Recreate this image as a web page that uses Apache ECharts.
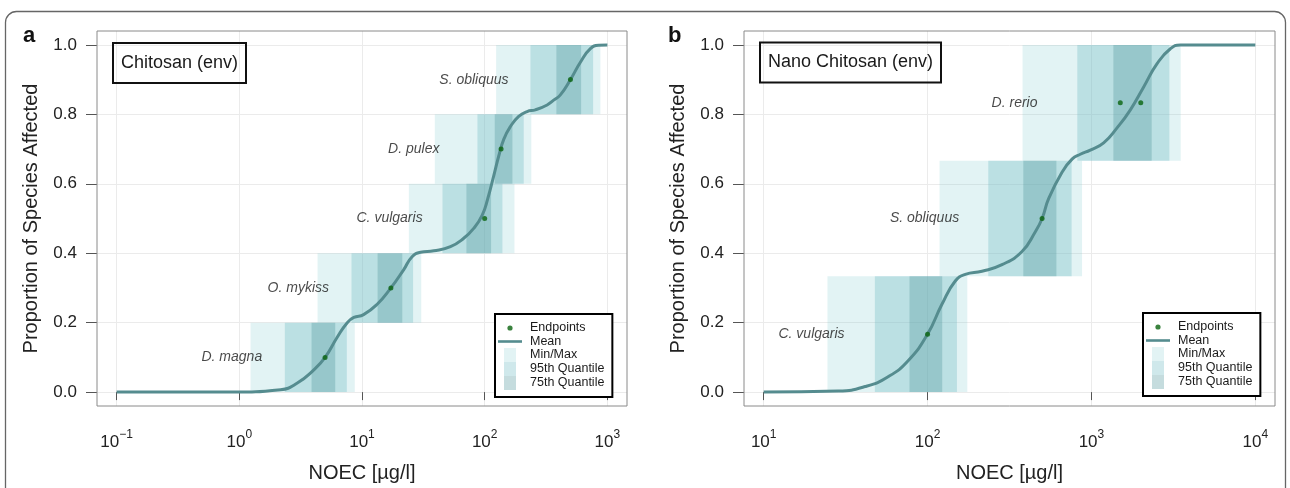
<!DOCTYPE html>
<html>
<head>
<meta charset="utf-8">
<script src="https://cdn.jsdelivr.net/npm/echarts@6/dist/echarts.min.js"></script>
<style>
  html, body { margin: 0; padding: 0; background: #fff; }
  #chart { width: 1290px; height: 488px; }
</style>
</head>
<body>
<div id="chart"></div>
<script>
// ---- panel a : Chitosan (env) ----
const aMeanNoec = [0.1, 0.85, 2.17, 2.97, 4.05, 5.0, 6.28, 7.58, 8.58, 10.3, 13.3, 17.2, 21.9, 25.6, 30.0, 38.5, 52.6, 67.5, 81.4, 95.3, 105.9, 118.5, 130.2, 143, 162.1, 189.4, 221.8, 259, 322.8, 365, 414, 500, 602.6, 727, 849, 1000];
const aMeanFrac = [0, 0, 0.007, 0.026, 0.064, 0.10, 0.158, 0.20, 0.215, 0.223, 0.253, 0.30, 0.353, 0.39, 0.403, 0.407, 0.419, 0.443, 0.4715, 0.509, 0.557, 0.623, 0.680, 0.728, 0.765, 0.794, 0.808, 0.813, 0.827, 0.841, 0.856, 0.90, 0.95, 0.989, 0.999, 1.0];
const aEndNoec = [5, 17.2, 100, 136, 500];
const aEndFrac = [0.1, 0.3, 0.5, 0.7, 0.9];
const aSteps = [0, 0.2, 0.4, 0.6, 0.8, 1.0];
const aMinMax = [[1.235, 8.73], [4.34, 30.4], [24.1, 174.8], [39.2, 240], [124, 877]];
const a95 = [[2.35, 7.52], [8.21, 26.1], [45.3, 139.5], [87.3, 208], [236, 765]];
const a75 = [[3.88, 6.05], [13.4, 21.3], [71.0, 112.8], [120.8, 168.3], [384, 611]];
const aSpecies = ['D. magna', 'O. mykiss', 'C. vulgaris', 'D. pulex', 'S. obliquus'];
const aLabelNoec = [1.55, 5.44, 31.5, 43.2, 158];
const aTicks = [0.1, 1, 10, 100, 1000];
const aRange = [-1.16, 3.16];

// ---- panel b : Nano Chitosan (env) ----
const bMeanNoec = [10, 28.6, 41.7, 57.8, 76.6, 100, 122.4, 147.6, 170, 214.8, 284.6, 377, 454.6, 500, 548, 661.4, 761.5, 855, 984, 1187, 1433, 1728, 2083, 2515, 3031, 3489, 10000];
const bMeanFrac = [0, 0.003, 0.016, 0.045, 0.092, 0.167, 0.253, 0.32, 0.339, 0.348, 0.367, 0.405, 0.462, 0.5, 0.557, 0.633, 0.671, 0.685, 0.697, 0.718, 0.761, 0.813, 0.879, 0.946, 0.989, 1.0, 1.0];
const bEndNoec = [100, 500, 1500, 2000];
const bEndFrac = [1 / 6, 0.5, 5 / 6, 5 / 6];
const bSteps = [0, 1 / 3, 2 / 3, 1];
const bMinMax = [[24.5, 174.8], [118.4, 876], [380, 3504]];
const b95 = [[47.7, 151.1], [234.8, 757], [820, 2989]];
const b75 = [[77.6, 122.9], [384, 611], [1361, 2331]];
const bSpecies = ['C. vulgaris', 'S. obliquus', 'D. rerio'];
const bLabelNoec = [31.4, 157, 472];
const bTicks = [10, 100, 1000, 10000];
const bRange = [0.88, 4.12];

const yTicks = [0, 0.2, 0.4, 0.6, 0.8, 1.0];

const C_MINMAX = 'rgba(120,200,205,0.21)';
const C_95 = 'rgba(110,185,195,0.33)';
const C_75 = 'rgba(80,150,155,0.33)';
const C_MEAN = '#558c8f';
const C_END = '#0a640f';
const FONT = '"Liberation Sans", Arial, sans-serif';

const dotSvg = '<svg xmlns="http://www.w3.org/2000/svg" width="24" height="14"><circle cx="12" cy="7" r="2.6" fill="' + C_END + '"/></svg>';
const DOT_ICON = 'image://data:image/svg+xml;charset=utf-8,' + encodeURIComponent(dotSvg);
const SWATCH = 'path://M0,0h12v14h-12z';

function bandItem(params, api) {
  const p0 = api.coord([api.value(0), api.value(3)]);
  const p1 = api.coord([api.value(1), api.value(2)]);
  return {
    type: 'rect',
    shape: { x: p0[0], y: p0[1], width: p1[0] - p0[0], height: p1[1] - p0[1] },
    style: { fill: api.visual('color') },
  };
}

function panelSeries(i, meanX, meanY, endX, endY, steps, minmax, q95, q75, species, labelX) {
  const ax = { xAxisIndex: i, yAxisIndex: i };
  const band = (name, ranges, color) => ({
    ...ax, name, type: 'custom', z: 1, silent: true,
    renderItem: bandItem,
    itemStyle: { color },
    encode: { x: [0, 1], y: [2, 3] },
    data: ranges.map((r, k) => [r[0], r[1], steps[k], steps[k + 1]]),
  });
  return [
    band('Min/Max', minmax, C_MINMAX),
    band('95th Quantile', q95, C_95),
    band('75th Quantile', q75, C_75),
    {
      ...ax, name: 'Mean', type: 'line', z: 3, silent: true,
      smooth: 0.5, symbol: 'none',
      lineStyle: { color: C_MEAN, width: 3 },
      itemStyle: { color: C_MEAN },
      data: meanX.map((x, k) => [x, meanY[k]]),
    },
    {
      ...ax, name: 'Endpoints', type: 'scatter', z: 4, silent: true,
      symbolSize: 5, itemStyle: { color: C_END },
      data: endX.map((x, k) => [x, endY[k]]),
    },
    {
      ...ax, name: 'species', type: 'scatter', z: 4, silent: true,
      symbolSize: 1, itemStyle: { color: 'rgba(0,0,0,0)' },
      label: {
        show: true, position: 'left', distance: 0,
        formatter: p => p.data[2],
        fontStyle: 'italic', fontSize: 14, color: '#1a1a1a', fontFamily: FONT,
      },
      data: species.map((s, k) => [labelX[k], (steps[k] + steps[k + 1]) / 2, s]),
    },
  ];
}

function supLabel(v) {
  const e = Math.round(Math.log10(v));
  return '{b|10}{s|' + (e < 0 ? '\u2212' + (-e) : e) + '}';
}

function xAxisFor(i, ticks, range) {
  return {
    gridIndex: i, type: 'log', logBase: 10,
    min: Math.pow(10, range[0]), max: Math.pow(10, range[1]),
    offset: 3,
    axisLine: { show: false },
    axisTick: { show: true, length: 8, customValues: ticks, lineStyle: { color: '#555' } },
    axisLabel: {
      customValues: ticks, margin: 20, color: '#222',
      formatter: supLabel,
      rich: {
        b: { fontSize: 17, lineHeight: 22, verticalAlign: 'bottom', fontFamily: FONT, color: '#222' },
        s: { fontSize: 12, lineHeight: 12, verticalAlign: 'top', fontFamily: FONT, color: '#222' },
      },
    },
    splitLine: { show: true, lineStyle: { color: '#ebebeb', width: 1 } },
    name: 'NOEC [\u00b5g/l]', nameLocation: 'middle', nameGap: 54,
    nameTextStyle: { fontSize: 20, color: '#222', fontFamily: FONT },
  };
}

function yAxisFor(i) {
  return {
    gridIndex: i, type: 'value', min: -0.04, max: 1.04,
    axisLine: { show: false },
    axisTick: { show: true, length: 11, customValues: yTicks, lineStyle: { color: '#555' } },
    axisLabel: {
      customValues: yTicks, margin: 20, fontSize: 17, color: '#222',
      formatter: v => v.toFixed(1),
    },
    splitLine: { show: true, lineStyle: { color: '#ebebeb', width: 1 } },
    name: 'Proportion of Species Affected', nameLocation: 'middle', nameGap: 56,
    nameTextStyle: { fontSize: 20, color: '#222', fontFamily: FONT },
  };
}

function legendFor(left, top) {
  return {
    left, top, orient: 'vertical', selectedMode: false,
    itemWidth: 24, itemHeight: 14, itemGap: 0, symbolKeepAspect: true,
    padding: [7, 8, 7, 3],
    backgroundColor: '#fff', borderColor: '#000', borderWidth: 2,
    textStyle: { fontSize: 12.5, color: '#1a1a1a', fontFamily: FONT, padding: [0, 0, 0, 3] },
    data: [
      { name: 'Endpoints', icon: DOT_ICON },
      { name: 'Mean', icon: 'path://M0,0h24v2.6h-24z', itemStyle: { color: C_MEAN } },
      { name: 'Min/Max', icon: SWATCH, itemStyle: { color: C_MINMAX } },
      { name: '95th Quantile', icon: SWATCH, itemStyle: { color: C_95 } },
      { name: '75th Quantile', icon: SWATCH, itemStyle: { color: C_75 } },
    ],
  };
}

const boxTitle = (text, left, top) => ({
  text, left, top, padding: [11, 8],
  borderColor: '#111', borderWidth: 2,
  textStyle: { fontSize: 18, fontWeight: 'normal', color: '#1a1a1a', fontFamily: FONT },
});
const letterTitle = (text, left) => ({
  text, left, top: 25, padding: 0,
  textStyle: { fontSize: 22, fontWeight: 'bold', color: '#111', fontFamily: FONT },
});

const chart = echarts.init(document.getElementById('chart'), null, { renderer: 'canvas' });
chart.setOption({
  animation: false,
  backgroundColor: '#fff',
  textStyle: { fontFamily: FONT },
  title: [
    letterTitle('a', 23),
    boxTitle('Chitosan (env)', 113, 43),
    letterTitle('b', 668),
    boxTitle('Nano Chitosan (env)', 760, 42.5),
  ],
  graphic: [{
    type: 'rect', silent: true, z: -1,
    shape: { x: 5.5, y: 11.5, width: 1280, height: 520, r: 11 },
    style: { fill: 'none', stroke: '#666', lineWidth: 1.3 },
  }],
  legend: [legendFor(495, 314), legendFor(1143, 313)],
  grid: [
    { left: 97, top: 31, width: 530, height: 378, show: true, borderColor: '#8a8a8a', borderWidth: 1, z: 5 },
    { left: 744, top: 31, width: 531, height: 378, show: true, borderColor: '#8a8a8a', borderWidth: 1, z: 5 },
  ],
  xAxis: [xAxisFor(0, aTicks, aRange), xAxisFor(1, bTicks, bRange)],
  yAxis: [yAxisFor(0), yAxisFor(1)],
  series: [
    ...panelSeries(0, aMeanNoec, aMeanFrac, aEndNoec, aEndFrac, aSteps, aMinMax, a95, a75, aSpecies, aLabelNoec),
    ...panelSeries(1, bMeanNoec, bMeanFrac, bEndNoec, bEndFrac, bSteps, bMinMax, b95, b75, bSpecies, bLabelNoec),
  ],
});
</script>
</body>
</html>
